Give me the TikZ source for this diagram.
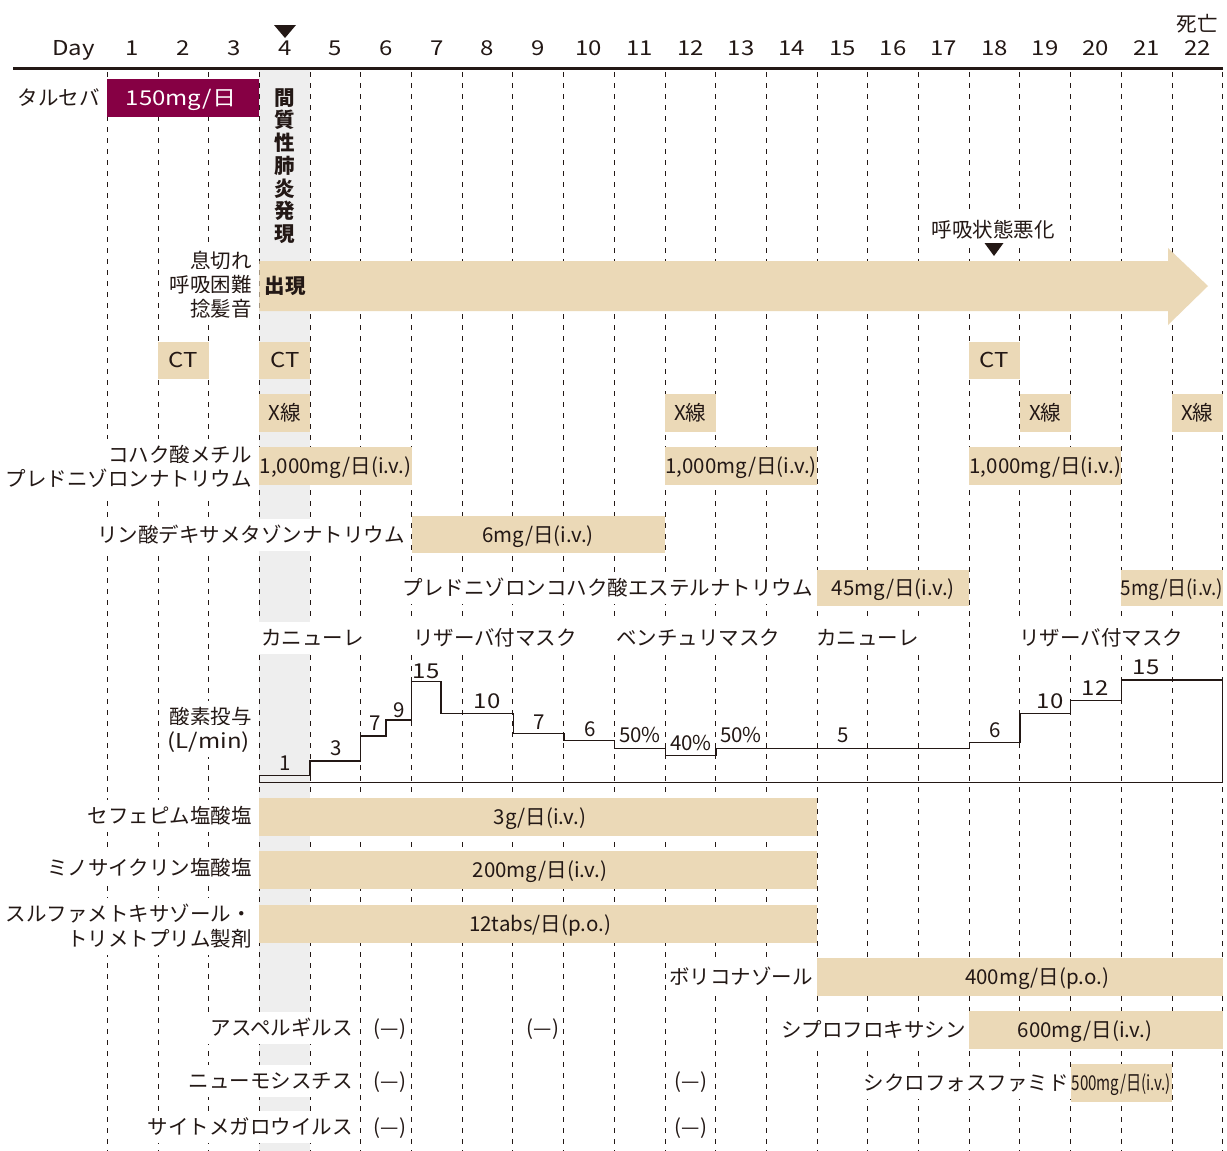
\documentclass[tikz,border=0pt]{standalone}
\usepackage{fontspec}
\setmainfont{Noto Sans CJK JP}
\definecolor{tan}{RGB}{235,217,183}
\definecolor{burg}{RGB}{134,0,68}
\definecolor{band}{RGB}{238,238,238}
\definecolor{ink}{RGB}{35,24,21}
\newcommand{\gx}[1]{107.3+50.7*(#1)}
\newcommand{\wide}[1]{\scalebox{1.17}[1]{#1}}
\tikzset{
  lbl/.style={fill=white, inner xsep=3pt, inner ysep=6pt, text height=18pt, text depth=2.5pt},
  txt/.style={inner sep=0pt, text height=18pt, text depth=2.5pt},
  dashline/.style={ink, line width=1pt, dash pattern=on 5pt off 6pt},
  barfill/.style={fill=tan},
  chart/.style={ink, line width=1.2pt},
}
\begin{document}
\begin{tikzpicture}[x=1pt,y=-1pt,font=\fontsize{20.5}{24}\selectfont,text=ink]
\useasboundingbox (0,0) rectangle (1227,1151);
\fill[white] (0,0) rectangle (1227,1151);
% gray band day 4
\fill[band] ({\gx{3}},70) rectangle ({\gx{4}},1151);
% dashed day lines
\foreach \i in {0,...,22} \draw[dashline] ({\gx{\i}},72) -- ({\gx{\i}},1151);

% ---------- labels with white background ----------
\node[lbl,anchor=east] (tarceva) at (103,98) {タルセバ};
\node[lbl,anchor=east] (s1) at (255,261) {息切れ};
\node[lbl,anchor=east] (s2) at (255,285) {呼吸困難};
\node[lbl,anchor=east] (s3) at (255,309) {捻髪音};
\node[lbl,anchor=east] (mp1) at (255,455) {コハク酸メチル};
\node[lbl,anchor=east] (mp2) at (255,479) {プレドニゾロンナトリウム};
\node[lbl,anchor=east] (dexa) at (408,535) {リン酸デキサメタゾンナトリウム};
\node[lbl,anchor=east] (pred) at (816,588) {プレドニゾロンコハク酸エステルナトリウム};
\node[lbl,anchor=west] (o1) at (258,638) {カニューレ};
\node[lbl,anchor=west] (o2) at (410,638) {リザーバ付マスク};
\node[lbl,anchor=west] (o3) at (613,638) {ベンチュリマスク};
\node[lbl,anchor=west] (o4) at (813,638) {カニューレ};
\node[lbl,anchor=west] (o5) at (1016,638) {リザーバ付マスク};
\node[lbl,anchor=east] (oxa) at (255,717) {酸素投与};
\node[lbl,anchor=east] (oxb) at (253,741) {\wide{(L/min)}};
\node[lbl,anchor=east] (cef) at (255,816) {セフェピム塩酸塩};
\node[lbl,anchor=east] (mino) at (255,868) {ミノサイクリン塩酸塩};
\node[lbl,anchor=east] (st1) at (255,914) {スルファメトキサゾール・};
\node[lbl,anchor=east] (st2) at (255,939) {トリメトプリム製剤};
\node[lbl,anchor=east] (vori) at (816,977) {ボリコナゾール};
\node[lbl,anchor=east] (cipro) at (969,1030) {シプロフロキサシン};
\node[lbl,anchor=east] (cyclo) at (1072,1083) {シクロフォスファミド};
\node[lbl,anchor=east] (asp) at (356,1028) {アスペルギルス};
\node[lbl,anchor=east] (pneu) at (356,1081) {ニューモシスチス};
\node[lbl,anchor=east] (cmv) at (356,1127) {サイトメガロウイルス};
\node[lbl,anchor=center] (worse) at (993,230) {呼吸状態悪化};

% negative results
\node[txt] (n1) at (390,1028) {(—)};
\node[txt] (n2) at (543,1028) {(—)};
\node[txt] (n3) at (390,1081) {(—)};
\node[txt] (n4) at (691,1081) {(—)};
\node[txt] (n5) at (390,1127) {(—)};
\node[txt] (n6) at (691,1127) {(—)};

% ---------- bars ----------
\fill[burg] ({\gx{0}},79) rectangle ({\gx{3}},117);
\node[txt,text=white] (tarbar) at (181,98) {\wide{150mg/日}};

\fill[tan] ({\gx{3}},261) -- (1168,261) -- (1168,248) -- (1208,286) -- (1168,325) -- (1168,311) -- ({\gx{3}},311) -- cycle;
\node[txt,font=\fontsize{20.5}{24}\selectfont\bfseries] (onset) at (285,286) {出現};

\node[txt,font=\fontsize{20.5}{22.7}\selectfont\bfseries,align=center,text height=,text depth=] (ip) at (285,166) {間\\質\\性\\肺\\炎\\発\\現};

% CT
\fill[barfill] ({\gx{1}},342) rectangle ({\gx{2}},379);
\node[txt] (ct1) at ({\gx{1.5}},360) {\wide{CT}};
\fill[barfill] ({\gx{3}},342) rectangle ({\gx{4}},379);
\node[txt] (ct2) at ({\gx{3.5}},360) {\wide{CT}};
\fill[barfill] ({\gx{17}},342) rectangle ({\gx{18}},379);
\node[txt] (ct3) at ({\gx{17.5}},360) {\wide{CT}};
% X-ray
\fill[barfill] ({\gx{3}},394) rectangle ({\gx{4}},432);
\node[txt] (xr1) at ({\gx{3.5}},413) {X線};
\fill[barfill] ({\gx{11}},394) rectangle ({\gx{12}},432);
\node[txt] (xr2) at ({\gx{11.5}},413) {X線};
\fill[barfill] ({\gx{18}},394) rectangle ({\gx{19}},432);
\node[txt] (xr3) at ({\gx{18.5}},413) {X線};
\fill[barfill] ({\gx{21}},394) rectangle ({\gx{22}},432);
\node[txt] (xr4) at ({\gx{21.5}},413) {X線};
% methylprednisolone pulses
\fill[barfill] ({\gx{3}},447) rectangle ({\gx{6}},485);
\node[txt] (mpa) at ({\gx{4.5}},466) {1,000mg/日(i.v.)};
\fill[barfill] ({\gx{11}},447) rectangle ({\gx{14}},485);
\node[txt] (mpb) at ({\gx{12.5}},466) {1,000mg/日(i.v.)};
\fill[barfill] ({\gx{17}},447) rectangle ({\gx{20}},485);
\node[txt] (mpc) at ({\gx{18.5}},466) {1,000mg/日(i.v.)};
% dexamethasone
\fill[barfill] ({\gx{6}},516) rectangle ({\gx{11}},553);
\node[txt] (dexbar) at (538,535) {6mg/日(i.v.)};
% prednisolone
\fill[barfill] ({\gx{14}},570) rectangle ({\gx{17}},606);
\node[txt] (predbar1) at ({\gx{15.5}},588) {45mg/日(i.v.)};
\fill[barfill] ({\gx{20}},570) rectangle ({\gx{22}},606);
\node[txt] (predbar2) at ({\gx{21}},588) {\scalebox{0.92}[1]{5mg/日(i.v.)}};
% antibiotics
\fill[barfill] ({\gx{3}},798) rectangle ({\gx{14}},836);
\node[txt] (cefbar) at (540,817) {3g/日(i.v.)};
\fill[barfill] ({\gx{3}},851) rectangle ({\gx{14}},889);
\node[txt] (minobar) at (540,870) {200mg/日(i.v.)};
\fill[barfill] ({\gx{3}},905) rectangle ({\gx{14}},943);
\node[txt] (stbar) at (540,924) {12tabs/日(p.o.)};
\fill[barfill] ({\gx{14}},958) rectangle ({\gx{22}},996);
\node[txt] (voribar) at (1037,977) {400mg/日(p.o.)};
\fill[barfill] ({\gx{17}},1011) rectangle ({\gx{22}},1049);
\node[txt] (ciprobar) at (1085,1030) {600mg/日(i.v.)};
\fill[barfill] ({\gx{19}},1064) rectangle ({\gx{21}},1102);
\node[txt] (cyclobar) at ({\gx{20}},1083) {\scalebox{0.74}[1]{500mg/日(i.v.)}};

% ---------- oxygen chart ----------
\draw[chart] (259.3,782.7) -- (259.3,775.3) -- (310,775.3) -- (310,761) -- (360.7,761)
  -- (360.7,736) -- (386,736) -- (386,720) -- (411.7,720) -- (411.7,681.7) -- (441,681.7)
  -- (441,713.3) -- (513.3,713.3) -- (513.3,733.3) -- (564,733.3) -- (564,740.3)
  -- (614.7,740.3) -- (614.7,748.3) -- (665.3,748.3) -- (665.3,755.7) -- (716,755.7)
  -- (716,748.3) -- (969.3,748.3) -- (969.3,742.7) -- (1020,742.7) -- (1020,713.3)
  -- (1070.7,713.3) -- (1070.7,700.3) -- (1121.3,700.3) -- (1121.3,680) -- (1222.7,680)
  -- (1222.7,782.7) -- cycle;
\node[txt] (v1) at (285,763) {1};
\node[txt] (v2) at (336.5,748) {3};
\node[txt] (v3) at (375,723) {7};
\node[txt] (v4) at (399,710) {9};
\node[txt] (v5) at (426,671) {\wide{15}};
\node[txt] (v6) at (487,701) {\wide{10}};
\node[txt] (v7) at (539,722) {7};
\node[txt] (v8) at (590,729) {6};
\node[txt] (v9) at (640,735) {50\%};
\node[txt] (v10) at (691,743) {40\%};
\node[txt] (v11) at (741,735) {50\%};
\node[txt] (v12) at (843,735) {5};
\node[txt] (v13) at (995,730) {6};
\node[txt] (v14) at (1050,701) {\wide{10}};
\node[txt] (v15) at (1095,688) {\wide{12}};
\node[txt] (v16) at (1146,667) {\wide{15}};

% ---------- header ----------
\draw[ink,line width=2.6pt] (13,68.3) -- (1222.7,68.3);
\node[txt,anchor=east] (day) at (95,48) {\wide{Day}};
\foreach \d in {1,...,22} \node[txt] (d\d) at ({\gx{\d-0.5}},48) {\wide{\d}};
\node[txt] (death) at (1197,24) {死亡};
\fill[ink] (274,25) -- (296,25) -- (285,38) -- cycle;
\fill[ink] (984.5,243) -- (1003.5,243) -- (994,256) -- cycle;
\end{tikzpicture}
\end{document}
